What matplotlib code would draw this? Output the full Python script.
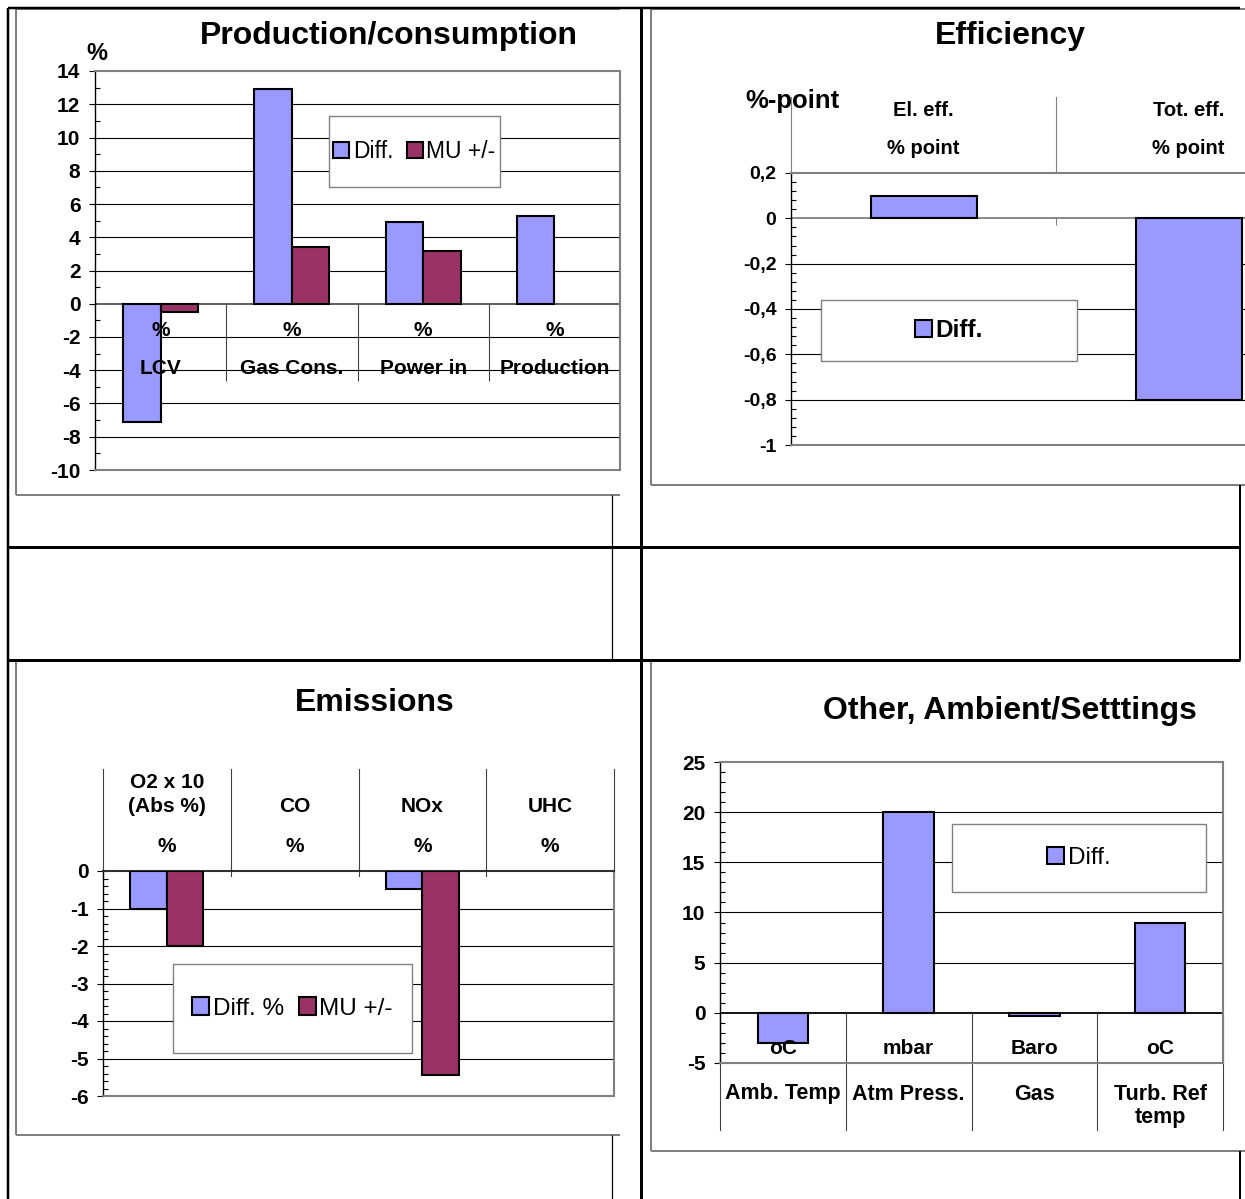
import numpy as np
import matplotlib
matplotlib.use("Agg")
import matplotlib.pyplot as plt
from matplotlib.patches import Rectangle
from matplotlib.ticker import MultipleLocator

plt.rcParams['font.family'] = ['Liberation Sans', 'DejaVu Sans']
plt.rcParams['axes.unicode_minus'] = False

W, H = 1245, 1199
BLUE = '#9999FF'
PLUM = '#993366'
GRAY = '#808080'

# --- data ---
prod_names = ['LCV', 'Gas Cons.', 'Power in', 'Production']
prod_units = ['%', '%', '%', '%']
prod_diff = [-7.1, 12.9, 4.9, 5.3]
prod_mu = [-0.5, 3.4, 3.2, np.nan]

eff_names = ['El. eff.', 'Tot. eff.']
eff_units = ['% point', '% point']
eff_diff = [0.1, -0.8]

emis_names = ['O2 x 10\n(Abs %)', 'CO', 'NOx', 'UHC']
emis_units = ['%', '%', '%', '%']
emis_diff = [-1.0, np.nan, -0.48, np.nan]
emis_mu = [-2.0, np.nan, -5.45, np.nan]

amb_names = ['Amb. Temp', 'Atm Press.', 'Gas', 'Turb. Ref\ntemp']
amb_units = ['oC', 'mbar', 'Baro', 'oC']
amb_diff = [-3.0, 20.0, -0.3, 9.0]

fig = plt.figure(figsize=(W / 100, H / 100), dpi=100)

# background: table lines and chart frames, in pixel coords
bg = fig.add_axes([0, 0, 1, 1], zorder=0)
bg.set_xlim(0, W)
bg.set_ylim(H, 0)
bg.axis('off')


def seg(x0, y0, x1, y1, color='black', px=2.0):
    bg.plot([x0, x1], [y0, y1], color=color, lw=px * 0.72, solid_capstyle='butt')


# chart frames
for s in [(16, 9, 620, 9), (16, 9, 16, 495), (16, 495, 620, 495),
          (651, 9, 1245, 9), (651, 9, 651, 485), (651, 485, 1245, 485),
          (16, 660, 16, 1135), (16, 1135, 620, 1135),
          (651, 660, 651, 1151), (651, 1151, 1245, 1151)]:
    seg(*s, color=GRAY, px=2)
# table
seg(8, 8, 1240, 8, px=2.5)
seg(8, 8, 8, 1199, px=2.5)
seg(641, 8, 641, 1199, px=3)
seg(8, 547, 1240, 547, px=3)
seg(8, 660, 1240, 660, px=3)
seg(612, 495, 612, 660, px=1.2)
seg(612, 1135, 612, 1199, px=1.2)
seg(1240, 485, 1240, 660, px=2)
seg(1240, 1151, 1240, 1199, px=2)


def chart_axes(l, t, r, b, n):
    ax = fig.add_axes([l / W, 1 - b / H, (r - l) / W, (b - t) / H], zorder=2)
    ax.set_xlim(0, n)
    for sp in ax.spines.values():
        sp.set_color(GRAY)
        sp.set_linewidth(1.5)
    ax.spines['left'].set_color('black')
    ax.spines['left'].set_linewidth(1.0)
    ax.tick_params(axis='x', which='both', bottom=False, labelbottom=False)
    ax.frac = lambda ypx: (b - ypx) / (b - t)
    return ax


def y_axis(ax, lo, hi, major, minor, size, comma=False, zero_color='#505050'):
    ax.set_ylim(lo, hi)
    vals = np.round(np.arange(lo, hi + major / 2, major), 6) + 0.0
    labels = []
    for v in vals:
        s = f'{v:g}'
        labels.append(s.replace('.', ',') if comma else s)
    ax.set_yticks(vals)
    ax.set_yticklabels(labels, fontsize=size, fontweight='bold')
    ax.yaxis.set_minor_locator(MultipleLocator(minor))
    ax.tick_params(axis='y', which='major', direction='out', length=4.5, width=0.8, pad=6)
    ax.tick_params(axis='y', which='minor', direction='in', length=3.5, width=0.8)
    for v in vals[1:-1]:
        if abs(v) > 1e-9:
            ax.axhline(v, color='black', lw=0.8, zorder=1)
    if lo < 0 < hi:
        ax.axhline(0, color=zero_color, lw=1.3, zorder=2)


def cat_text(ax, i, ypx, s, size=15, weight='bold'):
    ax.text(i + 0.5, ax.frac(ypx), s, transform=ax.get_xaxis_transform(),
            ha='center', va='center', fontsize=size, fontweight=weight,
            zorder=6, clip_on=False)


def dividers(ax, xs, y0px, y1px, color='#404040'):
    for x in xs:
        ax.plot([x, x], [ax.frac(y0px), ax.frac(y1px)], transform=ax.get_xaxis_transform(),
                color=color, lw=0.8, clip_on=False, zorder=2)


def legend_box(ax, handles, labels, l, t, r, b, size, weight='normal'):
    ax.add_patch(Rectangle((l / W, 1 - b / H), (r - l) / W, (b - t) / H,
                           transform=fig.transFigure, facecolor='white',
                           edgecolor=GRAY, lw=1.0, zorder=4, clip_on=False))
    leg = ax.legend(handles, labels, loc='center',
                    bbox_to_anchor=((l + r) / 2 / W, 1 - (t + b) / 2 / H),
                    bbox_transform=fig.transFigure, ncol=len(handles), frameon=False,
                    handlelength=0.7, handleheight=0.7, handletextpad=0.15,
                    columnspacing=0.6, borderpad=0, prop={'size': size, 'weight': weight})
    leg.set_zorder(7)


def title(x, y, s):
    fig.text(x / W, 1 - (y + 3) / H, s, ha='center', va='center', fontsize=23, fontweight='bold')


bar_kw = dict(edgecolor='black', linewidth=1.5, zorder=3)

# --- Production/consumption ---
ax = chart_axes(95, 71, 620, 470, 4)
y_axis(ax, -10, 14, 2, 1, 15)
x = np.arange(4) + 0.5
w = 1 / 3.5
b1 = ax.bar(x - w / 2, prod_diff, w, color=BLUE, **bar_kw)
b2 = ax.bar(x + w / 2, prod_mu, w, color=PLUM, **bar_kw)
for i in range(4):
    cat_text(ax, i, 330, prod_units[i])
    cat_text(ax, i, 369, prod_names[i])
ax.vlines([1, 2, 3, 4], -4.65, 0, color='#404040', lw=0.8, zorder=2)
legend_box(ax, [b1, b2], ['Diff.', 'MU +/-'], 329, 116, 500, 187, 16.5)
title(389, 33, 'Production/consumption')
fig.text(97 / W, 1 - 54 / H, '%', ha='center', va='center', fontsize=17, fontweight='bold')

# --- Efficiency ---
ax = chart_axes(791, 173, 1321, 445, 2)
y_axis(ax, -1, 0.2, 0.2, 0.04, 14, comma=True, zero_color=GRAY)
x = np.arange(2) + 0.5
b1 = ax.bar(x, eff_diff, 1 / 2.5, color=BLUE, **bar_kw)
for i in range(2):
    cat_text(ax, i, 110, eff_names[i], size=14.5)
    cat_text(ax, i, 148, eff_units[i], size=14.5)
dividers(ax, [0, 1, 2], 97, 173, color=GRAY)
ax.vlines([1], -0.03, 0, color=GRAY, lw=0.8, zorder=2)
legend_box(ax, [b1], ['Diff.'], 821, 300, 1077, 361, 17.5, weight='bold')
title(1010, 33, 'Efficiency')
fig.text(792 / W, 1 - 101 / H, '%-point', ha='center', va='center', fontsize=18.5, fontweight='bold')

# --- Emissions ---
ax = chart_axes(103, 871, 614, 1096, 4)
y_axis(ax, -6, 0, 1, 0.2, 15)
ax.spines['top'].set_color('#303030')
x = np.arange(4) + 0.5
w = 1 / 3.5
b1 = ax.bar(x - w / 2, emis_diff, w, color=BLUE, **bar_kw)
b2 = ax.bar(x + w / 2, emis_mu, w, color=PLUM, **bar_kw)
for i in range(4):
    lines = emis_names[i].split('\n')
    for k, s in enumerate(lines):
        cat_text(ax, i, 807 - 25 * (len(lines) - 1 - k), s)
    cat_text(ax, i, 846, emis_units[i])
dividers(ax, [0, 1, 2, 3, 4], 769, 876)
legend_box(ax, [b1, b2], ['Diff. %', 'MU +/-'], 173, 964, 412, 1053, 17.5)
title(375, 700, 'Emissions')

# --- Other, Ambient/Settings ---
ax = chart_axes(720, 762, 1223, 1063, 4)
y_axis(ax, -5, 25, 5, 1, 15, zero_color='black')
x = np.arange(4) + 0.5
b1 = ax.bar(x, amb_diff, 1 / 2.5, color=BLUE, **bar_kw)
for i in range(4):
    cat_text(ax, i, 1048, amb_units[i])
    for k, s in enumerate(amb_names[i].split('\n')):
        cat_text(ax, i, 1094 + 24 * k, s, size=15.5)
dividers(ax, [0, 1, 2, 3, 4], 1013, 1130)
legend_box(ax, [b1], ['Diff.'], 952, 824, 1206, 892, 17.5)
title(1010, 708, 'Other, Ambient/Setttings')

fig.savefig('out.png', dpi=100)
